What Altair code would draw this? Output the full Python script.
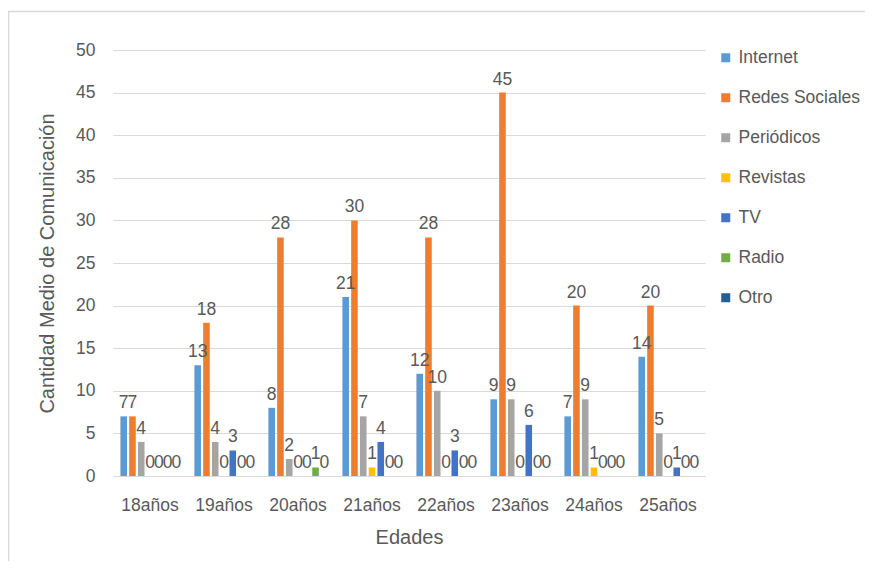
import altair as alt
import pandas as pd

edades = ["18años", "19años", "20años", "21años", "22años", "23años", "24años", "25años"]
series = ["Internet", "Redes Sociales", "Periódicos", "Revistas", "TV", "Radio", "Otro"]
internet = [7, 13, 8, 21, 12, 9, 7, 14]
redes_sociales = [7, 18, 28, 30, 28, 45, 20, 20]
periodicos = [4, 4, 2, 7, 10, 9, 9, 5]
revistas = [0, 0, 0, 1, 0, 0, 1, 0]
tv = [0, 3, 0, 4, 3, 6, 0, 1]
radio = [0, 0, 1, 0, 0, 0, 0, 0]
otro = [0, 0, 0, 0, 0, 0, 0, 0]
colores = ["#5B9BD5", "#ED7D31", "#A5A5A5", "#FFC000", "#4472C4", "#70AD47", "#255E91"]

valores = [internet, redes_sociales, periodicos, revistas, tv, radio, otro]
rows = []
for s, vals in zip(series, valores):
    for e, v in zip(edades, vals):
        rows.append({"Edad": e, "Medio": s, "Valor": v})
df = pd.DataFrame(rows)

FONT = "'Liberation Sans', Arial, sans-serif"
GRAY = "#595959"
FS = 17.5

x = alt.X("Edad:N", sort=edades, title="Edades",
          scale=alt.Scale(paddingInner=0.2, paddingOuter=0.1),
          axis=alt.Axis(labelAngle=0, ticks=False, domainColor="#D9D9D9",
                        labelPadding=20, titlePadding=14))
xoff = alt.XOffset("Medio:N", sort=series, scale=alt.Scale(paddingInner=0.25))
y = alt.Y("Valor:Q", title="Cantidad Medio de Comunicación",
          scale=alt.Scale(domain=[0, 50], nice=False),
          axis=alt.Axis(values=list(range(0, 51, 5)), ticks=False, domain=False,
                        gridColor="#D9D9D9", labelPadding=18, titlePadding=18))
color = alt.Color("Medio:N", sort=series,
                  scale=alt.Scale(domain=series, range=colores),
                  legend=alt.Legend(title=None, orient="none", legendX=604, legendY=-1,
                                    symbolType="square", symbolSize=81,
                                    symbolStrokeWidth=0, rowPadding=21,
                                    labelOffset=4))

base = alt.Chart(df)
frame = alt.Chart(pd.DataFrame({"f": [0]})).mark_rect(
    fill=None, stroke="#D9D9D9", strokeWidth=1.5).encode(
    x=alt.value(-104.5), x2=alt.value(900), y=alt.value(-38.5), y2=alt.value(700))
bars = base.mark_bar().encode(x=x, xOffset=xoff, y=y, color=color)
labels = base.mark_text(baseline="bottom", dy=-4, fontSize=FS, color=GRAY).encode(
    x=x, xOffset=xoff, y=y, text=alt.Text("Valor:Q"))

chart = alt.layer(frame, bars, labels).properties(
    width=592, height=426,
    autosize=alt.AutoSizeParams(type="none"),
    padding={"left": 105, "top": 42, "right": 160, "bottom": 85},
    background="white",
).configure_view(stroke=None).configure_axis(
    labelFont=FONT, titleFont=FONT, labelFontSize=FS, titleFontSize=20,
    labelColor=GRAY, titleColor=GRAY, titleFontWeight="normal",
).configure_legend(labelFont=FONT, labelFontSize=FS, labelColor=GRAY).configure_text(font=FONT)

chart.save("out.html", embed_options={"renderer": "svg", "actions": False})
